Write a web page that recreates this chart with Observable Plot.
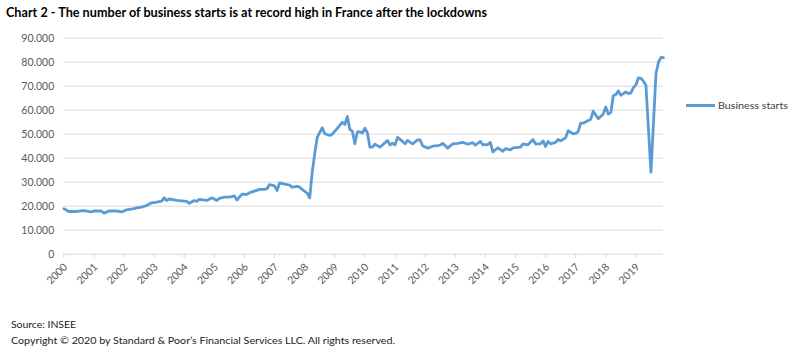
<!DOCTYPE html>
<html><head><meta charset="utf-8">
<script src="https://cdn.jsdelivr.net/npm/d3@7"></script>
<script src="https://cdn.jsdelivr.net/npm/@observablehq/plot@0.6"></script>
<style>
html,body{margin:0;padding:0;background:#fff;}
body{width:800px;height:359px;overflow:hidden;position:relative;font-family:Lato,"Open Sans",sans-serif;}
.abs{position:absolute;white-space:nowrap;transform-origin:0 0;line-height:1;}
#title{left:6px;top:5px;font-weight:bold;font-size:14px;color:#000;}
#chart{position:absolute;left:0;top:0;}
#legline{position:absolute;left:686px;top:103.5px;width:29px;height:3px;background:#5b9bd5;}
#legtext{left:718px;top:100px;font-size:10px;color:#404040;}
.foot{left:11px;font-size:10px;color:#1a1a1a;}
</style></head>
<body>
<div id="title" class="abs" data-w="481">Chart 2 - The number of business starts is at record high in France after the lockdowns</div>
<div id="chart"></div>
<div id="legline"></div>
<div id="legtext" class="abs" data-w="70">Business starts</div>
<div class="abs foot" style="top:319.4px" data-w="65">Source: INSEE</div>
<div class="abs foot" style="top:334.6px" data-w="384">Copyright © 2020 by Standard &amp; Poor’s Financial Services LLC. All rights reserved.</div>
<script>
// Month of each reading (as labelled on the chart's axis) and business starts
const months = ["2000-01","2000-03","2000-06","2000-09","2000-12","2001-01","2001-04","2001-05","2001-07","2001-10","2001-12",
"2002-02","2002-05","2002-06","2002-08","2002-10","2002-12","2003-02","2003-04","2003-05","2003-06","2003-07","2003-10",
"2004-02","2004-03","2004-05","2004-06","2004-07","2004-10","2004-12","2005-02","2005-03","2005-05","2005-07","2005-09","2005-10","2005-12",
"2006-02","2006-03","2006-05","2006-07","2006-09","2006-10","2006-11","2007-01","2007-02","2007-03","2007-06","2007-07","2007-08","2007-10","2007-11","2007-12",
"2008-02","2008-03","2008-04","2008-05","2008-06","2008-08","2008-09","2008-11","2008-12",
"2009-02","2009-04","2009-05","2009-06","2009-07","2009-08","2009-09","2009-10","2009-11","2009-12",
"2010-01","2010-02","2010-03","2010-04","2010-05","2010-07","2010-08","2010-10","2010-11","2010-12",
"2011-01","2011-02","2011-04","2011-05","2011-06","2011-08","2011-10","2011-11","2011-12",
"2012-02","2012-04","2012-06","2012-07","2012-08","2012-10","2012-12",
"2013-02","2013-04","2013-06","2013-08","2013-09","2013-11","2013-12",
"2014-02","2014-03","2014-04","2014-05","2014-06","2014-08","2014-09","2014-11","2014-12",
"2015-03","2015-04","2015-06","2015-08","2015-09","2015-11","2015-12",
"2016-01","2016-02","2016-03","2016-05","2016-06","2016-07","2016-09","2016-10","2016-12",
"2017-01","2017-02","2017-03","2017-04","2017-06","2017-07","2017-08","2017-10","2017-12",
"2018-01","2018-02","2018-03","2018-04","2018-05","2018-06","2018-07","2018-09","2018-10","2018-11","2018-12",
"2019-01","2019-02","2019-03","2019-04","2019-05","2019-07","2019-09","2019-10","2019-11","2019-12"];
const starts = [19000,17800,17800,18200,17600,18000,18000,17100,18000,18000,17600,
18500,19000,19300,19600,20300,21400,21700,22100,23500,22400,23000,22400,
22000,21200,22400,22000,22800,22400,23500,22400,23300,23800,23800,24300,22600,25000,
24900,25600,26300,27000,27000,27300,29000,28500,26500,29700,29000,28800,27900,28300,27900,27000,
25400,23500,34200,41800,48700,52700,50200,49500,50000,
52400,55000,54000,57400,52000,51300,46000,51000,51000,50500,
52500,50500,44600,44600,45800,44600,45500,47400,45500,46300,
45500,48700,47000,46000,47400,46000,47600,47600,45200,
44200,45000,45200,45500,46200,44200,46000,
46200,46600,45800,46500,45400,47000,45600,
45700,46600,42600,43500,44300,42900,44000,43500,44300,
44600,46000,45600,47800,46000,46000,47200,
44900,47000,46000,46600,47800,47200,48500,51500,50100,
50300,51200,54600,54600,55700,56200,59600,56400,58400,
61300,58400,59000,66100,66500,68000,66200,67600,66900,67200,69400,
70500,73500,73300,72100,70300,34200,75200,80000,82000,81900];
const yearLabels = ["2000","2001","2002","2003","2004","2005","2006","2007","2008","2009",
"2010","2011","2012","2013","2014","2015","2016","2017","2018","2019"];
const yTicks = [0,10000,20000,30000,40000,50000,60000,70000,80000,90000];
const seriesName = "Business starts";

const monthIndex = s => { const [y,m] = s.split("-").map(Number); return (y-2000)*12 + (m-1); };
const data = months.map((m,i) => ({t: monthIndex(m), v: starts[i]}));
const yearTicks = yearLabels.map(y => monthIndex(y + "-01"));
const fmt = d3.formatLocale({decimal: ",", thousands: ".", grouping: [3], currency: ["", " €"]}).format(",");

const chart = Plot.plot({
  width: 800, height: 300,
  marginLeft: 63.3, marginRight: 137, marginTop: 37.7, marginBottom: 46.3,
  style: {fontFamily: "Lato, 'Open Sans', sans-serif", fontSize: "10.5px", background: "transparent"},
  x: {type: "linear", domain: [0, 239]},
  y: {domain: [0, 90000]},
  marks: [
    Plot.ruleY(yTicks, {stroke: "#d9d9d9", strokeWidth: 1}),
    Plot.axisY(yTicks, {tickSize: 0, tickPadding: 9.5, tickFormat: fmt, fill: "#595959", label: null}),
    Plot.axisX(yearTicks, {tickSize: 4, stroke: "#d9d9d9", tickFormat: () => "", label: null}),
    Plot.text(yearTicks, {x: d => d, y: 0, text: (d, i) => yearLabels[i], rotate: -45, textAnchor: "end", dx: 2, dy: 11, fill: "#595959"}),
    Plot.line(data, {x: "t", y: "v", stroke: "#5b9bd5", strokeWidth: 2.8, strokeLinejoin: "round", strokeLinecap: "round"})
  ]
});
document.getElementById("chart").appendChild(chart);
document.getElementById("legtext").textContent = seriesName;

function fit(){
  document.querySelectorAll("[data-w]").forEach(el => {
    el.style.transform = "none";
    const w = el.getBoundingClientRect().width;
    el.style.transform = `scaleX(${(+el.dataset.w) / w})`;
  });
}
fit();
if (document.fonts && document.fonts.ready) document.fonts.ready.then(fit);
</script>
</body></html>
